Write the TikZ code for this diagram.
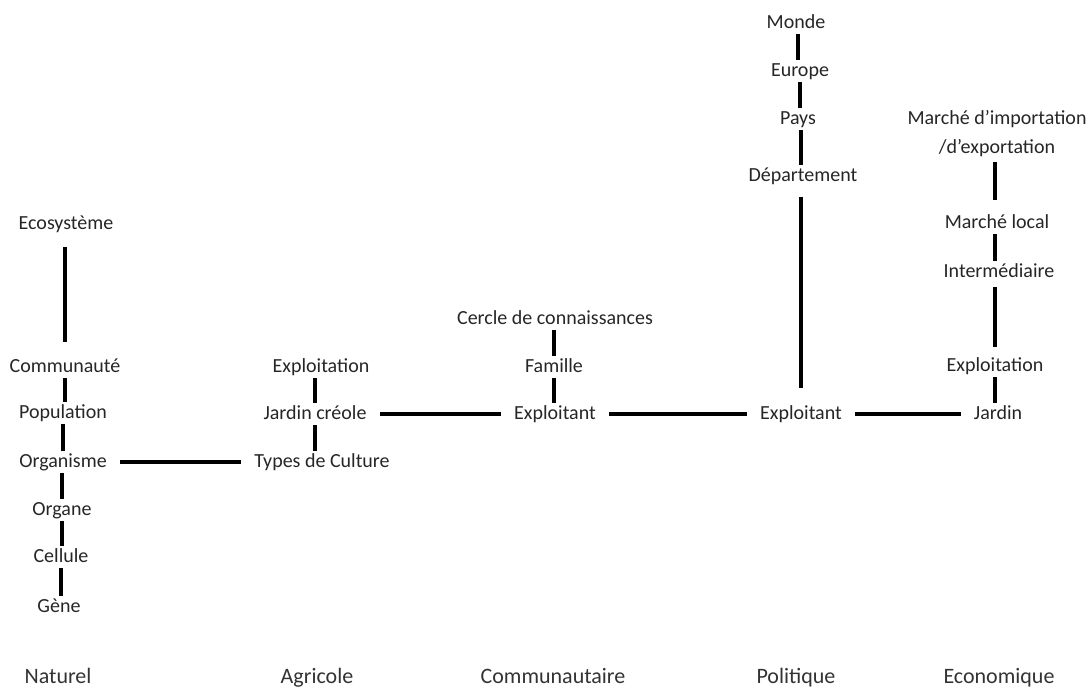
\documentclass[tikz,border=0pt]{standalone}
\usepackage{fontspec}
\setmainfont{Carlito}
\begin{document}
\begin{tikzpicture}[x=0.75pt,y=-0.75pt,
    lvl/.style={inner xsep=9.75pt,inner ysep=0pt,font=\fontsize{15pt}{21.75pt}\selectfont,text=black!85},
    one/.style={lvl,minimum height=16.5pt,text height=10.5pt,text depth=3pt},
    dom/.style={anchor=base,inner sep=0pt,font=\fontsize{16.5pt}{20pt}\selectfont,text=black!80},
    link/.style={line width=2.4pt,black}]
    \useasboundingbox (0,0) rectangle (1090,689);

    \node[one] (N1) at (66,224) {Ecosystème};
    \node[one] (N2) at (65,367) {Communauté};
    \node[one] (N3) at (63,413) {Population};
    \node[one] (N4) at (63,462) {Organisme};
    \node[one] (N5) at (62,510) {Organe};
    \node[one] (N6) at (61,557) {Cellule};
    \node[one] (N7) at (59,607) {Gène};
    \draw[link,shorten <=9pt,shorten >=10.5pt] (N2 |- N1.south) -- (N2.north);
    \draw[link] (N2.south) -- (N2 |- N3.north);
    \draw[link] (N3.south) -- (N3 |- N4.north);
    \draw[link] (N5 |- N4.south) -- (N5.north);
    \draw[link] (N5.south) -- (N5 |- N6.north);
    \draw[link] (N6.south) -- (N6 |- N7.north);

    \node[one] (A1) at (321,367) {Exploitation};
    \node[one] (A2) at (315,414) {Jardin créole};
    \node[one] (A3) at (322,462) {Types de Culture};
    \draw[link] (A2 |- A1.south) -- (A2.north);
    \draw[link] (A2.south) -- (A2 |- A3.north);
    \draw[link] (N4) -- (A3);

    \node[one] (C1) at (555,319) {Cercle de connaissances};
    \node[one] (C2) at (554,367) {Famille};
    \node[one] (C3) at (555,414) {Exploitant};
    \draw[link] (C2 |- C1.south) -- (C2.north);
    \draw[link] (C2.south) -- (C2 |- C3.north);
    \draw[link] (A2) -- (C3);

    \node[one] (P1) at (796,23) {Monde};
    \node[one] (P2) at (800,71) {Europe};
    \node[one] (P3) at (798,119) {Pays};
    \node[one] (P4) at (803,176) {Département};
    \node[one] (P5) at (801,414) {Exploitant};
    \draw[link] (P3 |- P1.south) -- (P3 |- P2.north);
    \draw[link] (P2.south) -- (P2 |- P3.north);
    \draw[link] (P5 |- P3.south) -- (P5 |- P4.north);
    \draw[link,shorten <=7.5pt,shorten >=11.25pt] (P5 |- P4.south) -- (P5.north);
    \draw[link] (C3) -- (P5);

    \node[lvl,align=center] (E1) at (997,133.5) {Marché d’importation\\/d’exportation};
    \node[one] (E2) at (997,223) {Marché local};
    \node[one] (E3) at (999,272) {Intermédiaire};
    \node[one] (E4) at (995,366) {Exploitation};
    \node[one] (E5) at (998,414) {Jardin};
    \draw[link,shorten <=3.75pt,shorten >=9pt] (E4 |- E1.south) -- (E4 |- E2.north);
    \draw[link] (E4 |- E2.south) -- (E4 |- E3.north);
    \draw[link,shorten <=3pt,shorten >=6pt] (E4 |- E3.south) -- (E4.north);
    \draw[link] (E4.south) -- (E4 |- E5.north);
    \draw[link] (P5) -- (E5);

    \node[dom] (D1) at (58,683) {Naturel};
    \node[dom] (D2) at (317,683) {Agricole};
    \node[dom] (D3) at (553,683) {Communautaire};
    \node[dom] (D4) at (796,683) {Politique};
    \node[dom] (D5) at (999,683) {Economique};
\end{tikzpicture}
\end{document}
